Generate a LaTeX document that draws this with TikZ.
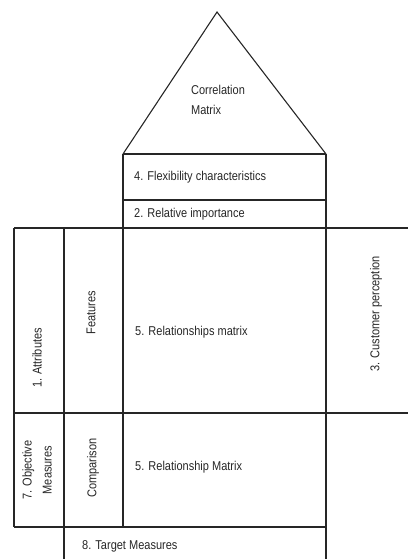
\documentclass[tikz,border=0pt]{standalone}
\usepackage{fontspec}
\setmainfont{Liberation Sans}[FakeStretch=0.86]
\begin{document}
\begin{tikzpicture}[x=1pt,y=-1pt,
  frame/.style={line width=1.1pt,black!85},
  lbl/.style={font=\fontsize{12.8}{20}\selectfont,inner sep=0pt,text=black!85},
  vlbl/.style={lbl,rotate=90,align=center}]
\useasboundingbox (0,0) rectangle (408,559);
% roof: correlation matrix
\draw[frame,line join=miter] (123,154) -- (217,12) -- (326,154);
% ceiling rows
\draw[frame] (123,154) -- (326,154);
\draw[frame] (123,200) -- (326,200);
% long horizontal dividers
\draw[frame] (14,228) -- (408,228);
\draw[frame] (14,413) -- (408,413);
\draw[frame] (14,527) -- (326,527);
% verticals
\draw[frame] (14,228) -- (14,527);
\draw[frame] (64,228) -- (64,559);
\draw[frame] (123,154) -- (123,527);
\draw[frame] (326,154) -- (326,559);
% labels
\node[lbl,align=left] (corr) at (218,100) {Correlation\\Matrix};
\node[lbl,anchor=west] (flex) at (134,177) {4. Flexibility characteristics};
\node[lbl,anchor=west] (rel) at (134,214) {2. Relative importance};
\node[vlbl] (attr) at (37,358) {1. Attributes};
\node[vlbl] (feat) at (91,313) {Features};
\node[lbl,anchor=west] (rm1) at (135,332) {5. Relationships matrix};
\node[vlbl] (cust) at (376,314) {3. Customer perception};
\node[vlbl] (obj) at (37,470) {7. Objective\\Measures};
\node[vlbl] (comp) at (93,468) {Comparison};
\node[lbl,anchor=west] (rm2) at (135,467) {5. Relationship Matrix};
\node[lbl,anchor=west] (tgt) at (82,546) {8. Target Measures};
\end{tikzpicture}
\end{document}
